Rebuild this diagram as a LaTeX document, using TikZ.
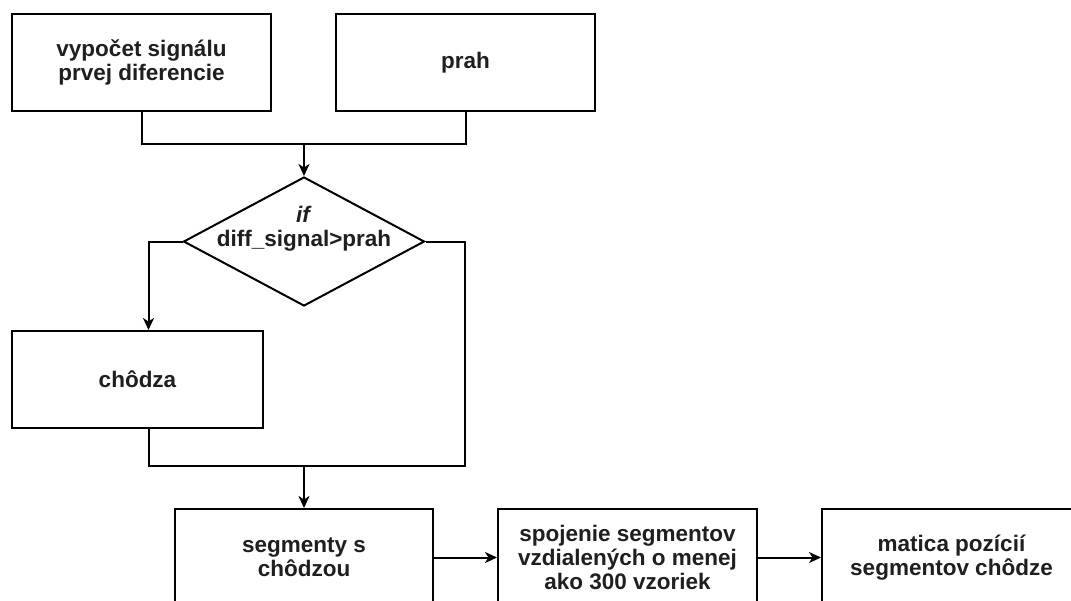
\documentclass[tikz,border=0pt]{standalone}
\usepackage{fontspec}
\setmainfont{Liberation Sans}
\usetikzlibrary{shapes.geometric,arrows.meta}
\begin{document}
\begin{tikzpicture}[x=1pt,y=-1pt,
  txt/.style={font=\fontsize{22.5}{24}\selectfont\bfseries, align=center, text=black!88},
  box/.style={txt, draw, line width=2pt, fill=white, minimum width=259pt, minimum height=97pt, inner sep=0pt},
  dec/.style={draw, line width=2pt, diamond, aspect=1.87, minimum width=241pt, minimum height=129pt, inner sep=0pt},
  conn/.style={line width=2pt},
  arr/.style={conn, -{Stealth[length=12pt,width=11pt,inset=3.5pt]}}
]
\useasboundingbox (0,0) rectangle (1071,600);
\clip (0,0) rectangle (1071,600);
\fill[white] (0,0) rectangle (1071,600);

\node[box] (b1) at (141.5,62.5) {vypočet signálu\\prvej diferencie};
\node[box] (b2) at (465.5,62.5) {prah};
\node[dec] (d) at (304,241.5) {};
\node[txt] (dt) at (304,229) {\textit{if}\\diff\_signal>prah};
\node[box, minimum width=251pt] (ch) at (137.5,379.5) {chôdza};
\node[box, minimum width=258pt] (seg) at (304,557.5) {segmenty s\\chôdzou};
\node[box] (sp) at (627.5,557.5) {spojenie segmentov\\vzdialených o menej\\ako 300 vzoriek};
\node[box] (mat) at (951.5,557.5) {matica pozícií\\segmentov chôdze};

\coordinate (j1) at (304,144);
\coordinate (r1) at (465,466);
\coordinate (j2) at (304,466);

\draw[conn] (b1.south) |- (j1);
\draw[conn] (b2.south) |- (j1);
\draw[arr] (j1) -- (d.north);
\draw[arr] (d.west) -| ([xshift=11pt]ch.north);
\draw[conn] (d.east) -| (r1) -- (j2);
\draw[conn] ([xshift=11pt]ch.south) |- (j2);
\draw[arr] (j2) -- (seg.north);
\draw[arr] (seg.east) -- (sp.west);
\draw[arr] (sp.east) -- (mat.west);
\end{tikzpicture}
\end{document}
